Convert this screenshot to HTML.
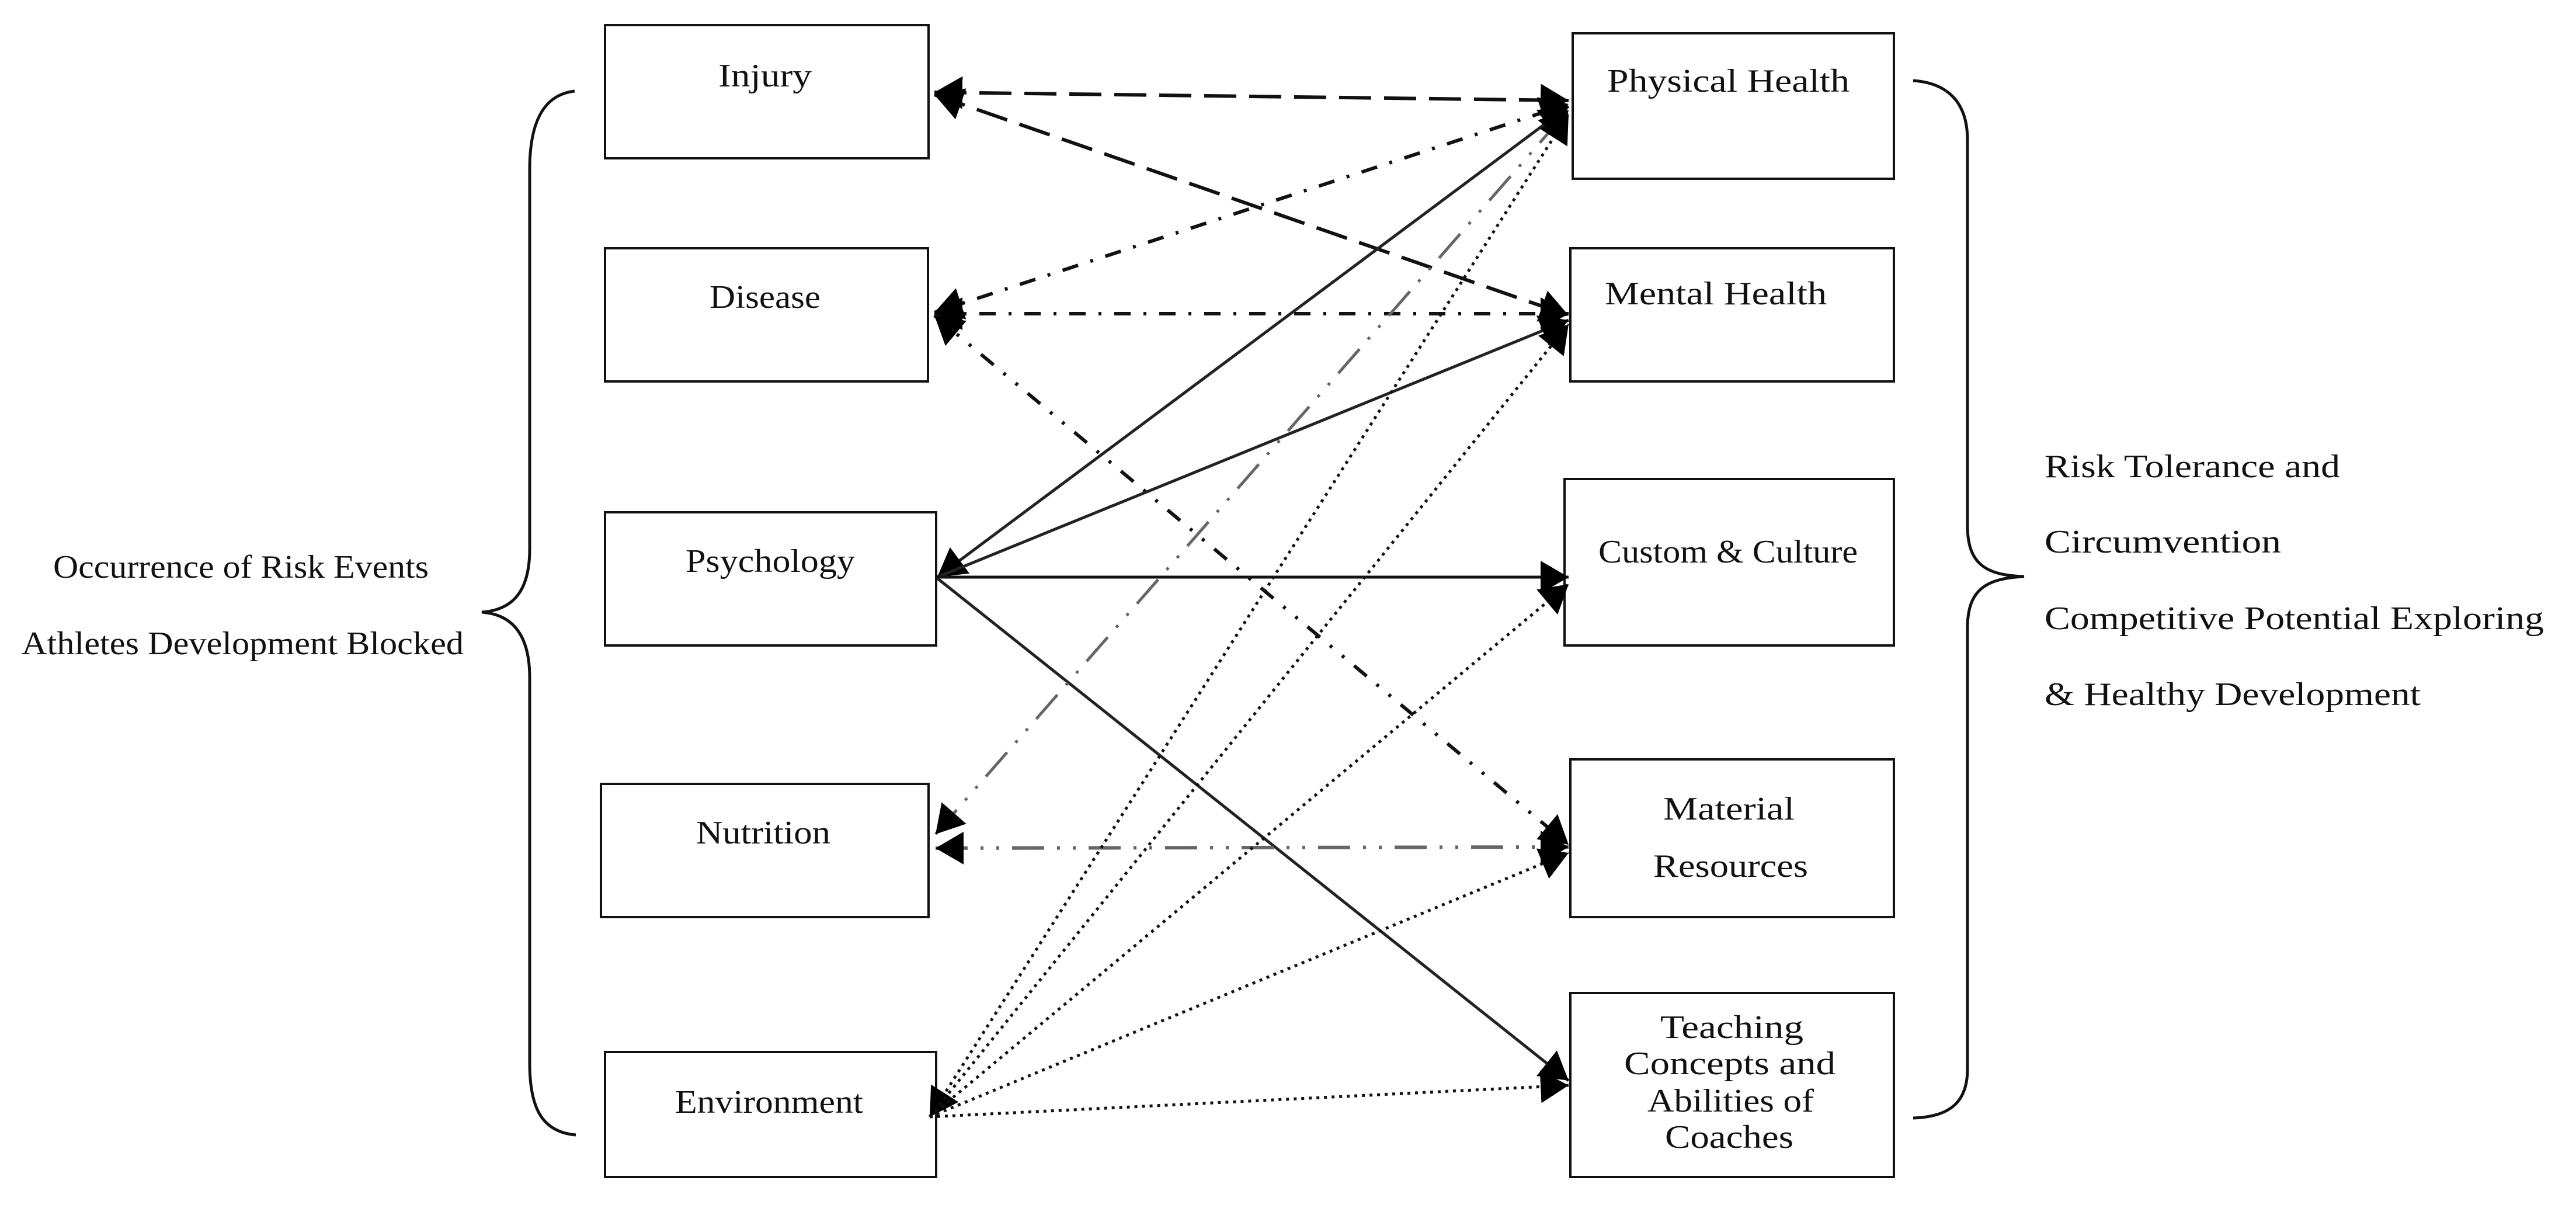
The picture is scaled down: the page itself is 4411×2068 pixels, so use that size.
<!DOCTYPE html>
<html><head><meta charset="utf-8"><style>
html,body{margin:0;padding:0;background:#fff;}
svg{display:block;}
text{font-family:"Liberation Serif",serif;fill:#111;}
</style></head><body>
<svg width="4411" height="2068" viewBox="0 0 4411 2068" xmlns="http://www.w3.org/2000/svg">
<defs>
<marker id="a" markerUnits="userSpaceOnUse" markerWidth="60" markerHeight="70" refX="48" refY="30" orient="auto-start-reverse">
<path d="M0,2 L48,30 L0,58 z" fill="#000"/>
</marker>
</defs>
<rect width="4411" height="2068" fill="#fff"/>
<g fill="none" stroke="#111" stroke-width="4">
<rect x="1036" y="43" width="554" height="228"/>
<rect x="1036" y="425" width="553" height="228"/>
<rect x="1036" y="877" width="567" height="228"/>
<rect x="1029" y="1342" width="561" height="228"/>
<rect x="1036" y="1801" width="567" height="214"/>
<rect x="2693" y="57" width="550" height="249"/>
<rect x="2689" y="425" width="554" height="228"/>
<rect x="2679" y="820" width="564" height="285"/>
<rect x="2689" y="1300" width="554" height="270"/>
<rect x="2689" y="1700" width="554" height="315"/>
<path d="M984,156 C930,162 907,210 907,290 L907,940 C907,1010 880,1044 825,1048 C880,1052 907,1090 907,1160 L907,1820 C907,1900 930,1938 986,1943" stroke-width="5"/>
<path d="M3276,138 C3335,142 3369,175 3369,240 L3369,900 C3369,965 3400,985 3466,987 C3400,990 3369,1010 3369,1075 L3369,1830 C3369,1890 3335,1912 3276,1914" stroke-width="5"/>
</g>
<g fill="none" stroke="#111">
<line x1="1600" y1="158" x2="2686" y2="172" stroke-width="6" stroke-dasharray="55,22" marker-start="url(#a)" marker-end="url(#a)"/>
<line x1="1600" y1="162" x2="2686" y2="540" stroke-width="6" stroke-dasharray="55,22" marker-start="url(#a)" marker-end="url(#a)"/>
<line x1="1600" y1="535" x2="2686" y2="178" stroke-width="6" stroke-dasharray="28,22,5,22" marker-start="url(#a)" marker-end="url(#a)"/>
<line x1="1600" y1="537" x2="2686" y2="537" stroke-width="6" stroke-dasharray="28,22,5,22" marker-start="url(#a)" marker-end="url(#a)"/>
<line x1="1600" y1="540" x2="2686" y2="1446" stroke-width="6" stroke-dasharray="28,22,5,22,5,22" marker-start="url(#a)" marker-end="url(#a)"/>
<line x1="1605" y1="988" x2="2686" y2="182" stroke="#222" stroke-width="5" marker-start="url(#a)" marker-end="url(#a)"/>
<line x1="1605" y1="988" x2="2686" y2="548" stroke="#222" stroke-width="5" marker-end="url(#a)"/>
<line x1="1605" y1="988" x2="2686" y2="988" stroke="#111" stroke-width="5" marker-end="url(#a)"/>
<line x1="1605" y1="990" x2="2686" y2="1850" stroke="#222" stroke-width="5" marker-end="url(#a)"/>
<line x1="1602" y1="1428" x2="2686" y2="188" stroke="#666" stroke-width="5" stroke-dasharray="55,22,5,22,5,22" marker-start="url(#a)" marker-end="url(#a)"/>
<line x1="1602" y1="1452" x2="2686" y2="1450" stroke="#666" stroke-width="6" stroke-dasharray="55,22,5,22,5,22" marker-start="url(#a)" marker-end="url(#a)"/>
<g stroke-width="5" stroke-dasharray="5,8">
<line x1="1592" y1="1912" x2="2686" y2="195" marker-start="url(#a)" marker-end="url(#a)"/>
<line x1="1592" y1="1912" x2="2686" y2="555" marker-end="url(#a)"/>
<line x1="1592" y1="1912" x2="2686" y2="1000" marker-end="url(#a)"/>
<line x1="1592" y1="1912" x2="2686" y2="1460" marker-end="url(#a)"/>
<line x1="1592" y1="1912" x2="2686" y2="1858" marker-end="url(#a)"/>
</g>
</g>
<g font-size="56">
<text x="1230" y="148" textLength="160" lengthAdjust="spacingAndGlyphs">Injury</text>
<text x="1215" y="527" textLength="190" lengthAdjust="spacingAndGlyphs">Disease</text>
<text x="1174" y="979" textLength="290" lengthAdjust="spacingAndGlyphs">Psychology</text>
<text x="1192" y="1444" textLength="230" lengthAdjust="spacingAndGlyphs">Nutrition</text>
<text x="1156" y="1905" textLength="322" lengthAdjust="spacingAndGlyphs">Environment</text>
<text x="2752" y="157" textLength="415" lengthAdjust="spacingAndGlyphs">Physical Health</text>
<text x="2748" y="521" textLength="380" lengthAdjust="spacingAndGlyphs">Mental Health</text>
<text x="2737" y="963" textLength="444" lengthAdjust="spacingAndGlyphs">Custom &amp; Culture</text>
<text x="2848" y="1403" textLength="225" lengthAdjust="spacingAndGlyphs">Material</text>
<text x="2831" y="1501" textLength="265" lengthAdjust="spacingAndGlyphs">Resources</text>
<text x="2843" y="1777" textLength="245" lengthAdjust="spacingAndGlyphs">Teaching</text>
<text x="2781" y="1839" textLength="362" lengthAdjust="spacingAndGlyphs">Concepts and</text>
<text x="2821" y="1903" textLength="285" lengthAdjust="spacingAndGlyphs">Abilities of</text>
<text x="2851" y="1965" textLength="220" lengthAdjust="spacingAndGlyphs">Coaches</text>
<text x="91" y="989" textLength="643" lengthAdjust="spacingAndGlyphs">Occurrence of Risk Events</text>
<text x="37" y="1120" textLength="757" lengthAdjust="spacingAndGlyphs">Athletes Development Blocked</text>
<text x="3501" y="817" textLength="506" lengthAdjust="spacingAndGlyphs">Risk Tolerance and</text>
<text x="3501" y="946" textLength="405" lengthAdjust="spacingAndGlyphs">Circumvention</text>
<text x="3501" y="1077" textLength="855" lengthAdjust="spacingAndGlyphs">Competitive Potential Exploring</text>
<text x="3501" y="1207" textLength="644" lengthAdjust="spacingAndGlyphs">&amp; Healthy Development</text>
</g>
</svg>
</body></html>
